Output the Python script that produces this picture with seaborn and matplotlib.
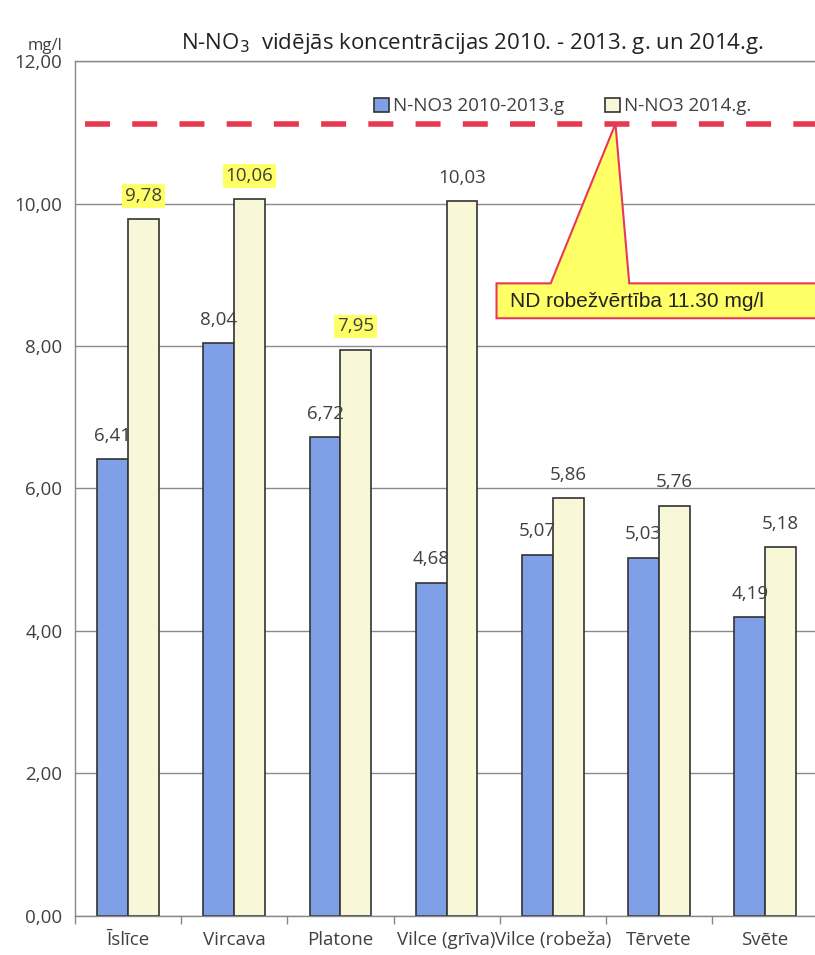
import pandas as pd
import seaborn as sns
import matplotlib.pyplot as plt
from matplotlib.patches import Polygon

# data
rivers = ["Īslīce", "Vircava", "Platone", "Vilce (grīva)", "Vilce (robeža)", "Tērvete", "Svēte"]
avg_2010_2013 = [6.41, 8.04, 6.72, 4.68, 5.07, 5.03, 4.19]
val_2014 = [9.78, 10.06, 7.95, 10.03, 5.86, 5.76, 5.18]
series_names = ["N-NO3 2010-2013.g", "N-NO3 2014.g."]
highlighted_2014 = [True, True, True, False, False, False, False]
limit_label = "ND robežvērtība 11.30 mg/l"
limit_line = 11.12  # where the dashed line sits in the picture
yticks = [0, 2, 4, 6, 8, 10, 12]

df = pd.DataFrame({
    "river": rivers * 2,
    "value": avg_2010_2013 + val_2014,
    "series": [series_names[0]] * len(rivers) + [series_names[1]] * len(rivers),
})

sns.set_style("white")
plt.rcParams["font.family"] = ["Open Sans", "DejaVu Sans"]
txt_color = "#404040"

fig = plt.figure(figsize=(8.15, 9.55), dpi=100)
ax = fig.add_axes([0.092, 0.041, 0.912, 0.895])

sns.barplot(data=df, x="river", y="value", hue="series", order=rivers,
            palette=["#7f9fe6", "#f8f8d8"], width=0.58, gap=0,
            edgecolor="#333333", linewidth=1.2, saturation=1, ax=ax)

ax.set_xlim(-0.5, 6.5)
ax.set_ylim(0, 12)
ax.set_yticks(yticks)
ax.set_yticklabels([f"{v:.2f}".replace(".", ",") for v in yticks],
                   fontsize=13.5, color=txt_color)
ax.tick_params(axis="y", length=6, color="#888888", width=1, pad=3)
ax.set_xticks(range(len(rivers)))
ax.set_xticklabels(rivers, fontsize=13.5, color=txt_color)
ax.tick_params(axis="x", which="major", length=0, pad=11)
ax.set_xticks([i - 0.5 for i in range(len(rivers) + 1)], minor=True)
ax.tick_params(axis="x", which="minor", length=6, color="#888888", width=1, bottom=True)
ax.set_xlabel("")
ax.set_ylabel("")
ax.grid(axis="y", color="#8a8a8a", linewidth=1)
ax.set_axisbelow(True)
ax.spines["right"].set_visible(False)
for side in ["left", "bottom", "top"]:
    ax.spines[side].set_color("#888888")
    ax.spines[side].set_linewidth(1)

# value labels
for i, v in enumerate(avg_2010_2013):
    ax.text(i - 0.145, v + 0.2, f"{v:.2f}".replace(".", ","), ha="center", va="bottom",
            fontsize=13.5, color=txt_color)
for i, v in enumerate(val_2014):
    kw = {}
    if highlighted_2014[i]:
        kw["bbox"] = dict(facecolor="#ffff66", edgecolor="none", pad=2)
    ax.text(i + 0.145, v + 0.2, f"{v:.2f}".replace(".", ","), ha="center", va="bottom",
            fontsize=13.5, color=txt_color, **kw)

# limit line
ax.axhline(limit_line, xmin=0.014, xmax=1, color="#e8384f", linewidth=4,
           dashes=(4.5, 4), zorder=3)

# callout pointing at the line
callout = Polygon([(3.47, 8.39), (3.47, 8.88), (3.98, 8.88), (4.59, limit_line),
                   (4.72, 8.88), (6.48, 8.88), (6.48, 8.39)],
                  closed=True, facecolor="#ffff66", edgecolor="#e8385a",
                  linewidth=1.5, zorder=4, clip_on=False)
ax.add_patch(callout)
ax.text(3.6, 8.62, limit_label, ha="left", va="center", fontsize=15,
        family="Liberation Sans", color="#222222", zorder=5)

# legend
handles, labels = ax.get_legend_handles_labels()
ax.legend(handles, labels, loc="center left", bbox_to_anchor=(0.38, 0.947),
          ncol=2, frameon=False, fontsize=13.5, handlelength=0.8, handleheight=0.8,
          handletextpad=0.2, columnspacing=2.2, labelcolor=txt_color)

fig.text(0.58, 0.954, "N-NO$_3$  vidējās koncentrācijas 2010. - 2013. g. un 2014.g.",
         ha="center", va="center", fontsize=16, color="#222222")
fig.text(0.055, 0.952, "mg/l", ha="center", va="center", fontsize=12, color=txt_color)

fig.savefig("out.png", dpi=100)
